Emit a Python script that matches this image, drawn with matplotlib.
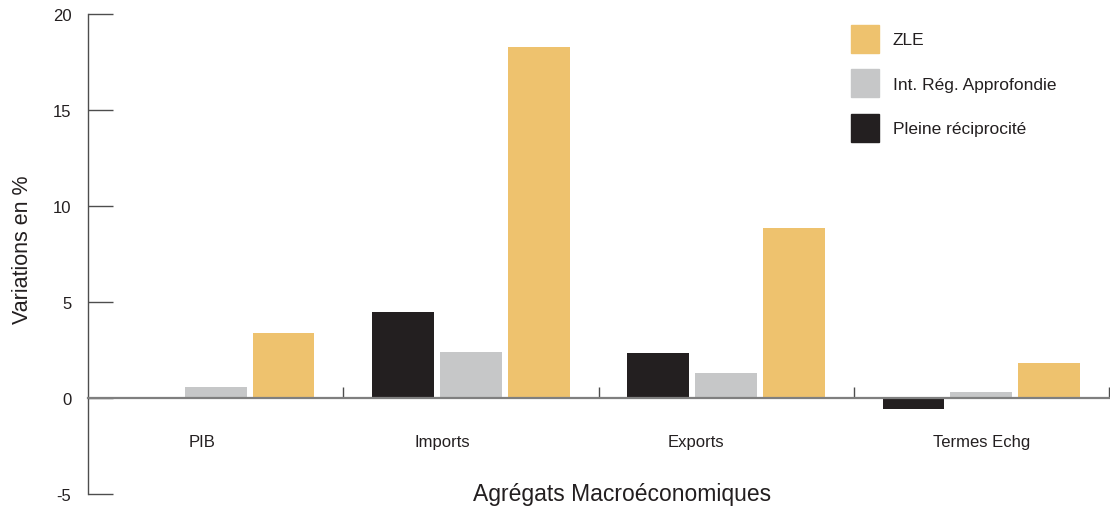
import matplotlib.pyplot as plt
from matplotlib.patches import Patch

plt.rcParams['font.family'] = ['Liberation Sans', 'DejaVu Sans']

# Données
categories = ['PIB', 'Imports', 'Exports', 'Termes Echg']
pleine = [0.02, 4.48, 2.35, -0.57]
int_reg = [0.57, 2.40, 1.30, 0.31]
zle = [3.39, 18.28, 8.85, 1.82]

series_names = ['Pleine réciprocité', 'Int. Rég. Approfondie', 'ZLE']
colors = ['#231F20', '#C6C7C8', '#EEC26E']
txt = '#231F20'

# décalage des étiquettes de catégorie (pas tout à fait centrées dans l'original)
label_shift = [-0.055, -0.113, -0.117, 0.0]

fig = plt.figure(figsize=(11.1, 5.1), dpi=100)
ax = fig.add_axes([88 / 1110, 15 / 510, (1109 - 88) / 1110, 480 / 510])

x = list(range(len(categories)))
w = 0.242
step = 0.266
for k, vals in enumerate([pleine, int_reg, zle]):
    ax.bar([i + (k - 1) * step for i in x], vals, width=w, color=colors[k],
           label=series_names[k], zorder=2)

ax.set_xlim(-0.5, len(categories) - 0.5)
ax.set_ylim(-5, 20)
ax.set_yticks([-5, 0, 5, 10, 15, 20])
ax.set_yticklabels(['-5', '0', '5', '10', '15', '20'])

# axe x à zéro
for s in ['top', 'right']:
    ax.spines[s].set_visible(False)
ax.spines['bottom'].set_position(('data', 0))
ax.spines['bottom'].set_color('#7F7F7F')
ax.spines['bottom'].set_linewidth(1.6)
ax.spines['bottom'].set_zorder(3)
ax.spines['left'].set_color('#4D4D4D')
ax.spines['left'].set_linewidth(1.0)

ax.set_xticks([i + s for i, s in zip(x, label_shift)])
ax.set_xticklabels(categories)
ax.set_xticks([i + 0.5 for i in x], minor=True)
ax.tick_params(axis='x', which='major', length=0, pad=26, labelsize=12, labelcolor=txt)
ax.tick_params(axis='x', which='minor', direction='in', length=8, width=1.0, color='#4D4D4D')
ax.tick_params(axis='y', direction='in', length=18, width=1.0, color='#4D4D4D',
               pad=12, labelsize=12, labelcolor=txt)

ax.set_ylabel('Variations en %', fontsize=15.5, color=txt)
ax.yaxis.set_label_coords(-0.054, 0.51)
fig.text(622 / 1110, 15 / 510, 'Agrégats Macroéconomiques', ha='center', va='center',
         fontsize=16.5, color=txt)

handles = [Patch(color=colors[k]) for k in [2, 1, 0]]
labels = [series_names[k] for k in [2, 1, 0]]
ax.legend(handles, labels, loc='upper left', bbox_to_anchor=(851 / 1110, 1 - 26 / 510),
          bbox_transform=fig.transFigure, frameon=False, fontsize=12.5,
          handlelength=1.61, handleheight=2.1, handletextpad=0.8,
          labelspacing=0.95, borderpad=0, borderaxespad=0, labelcolor=txt)

fig.savefig('out.png', dpi=100)
